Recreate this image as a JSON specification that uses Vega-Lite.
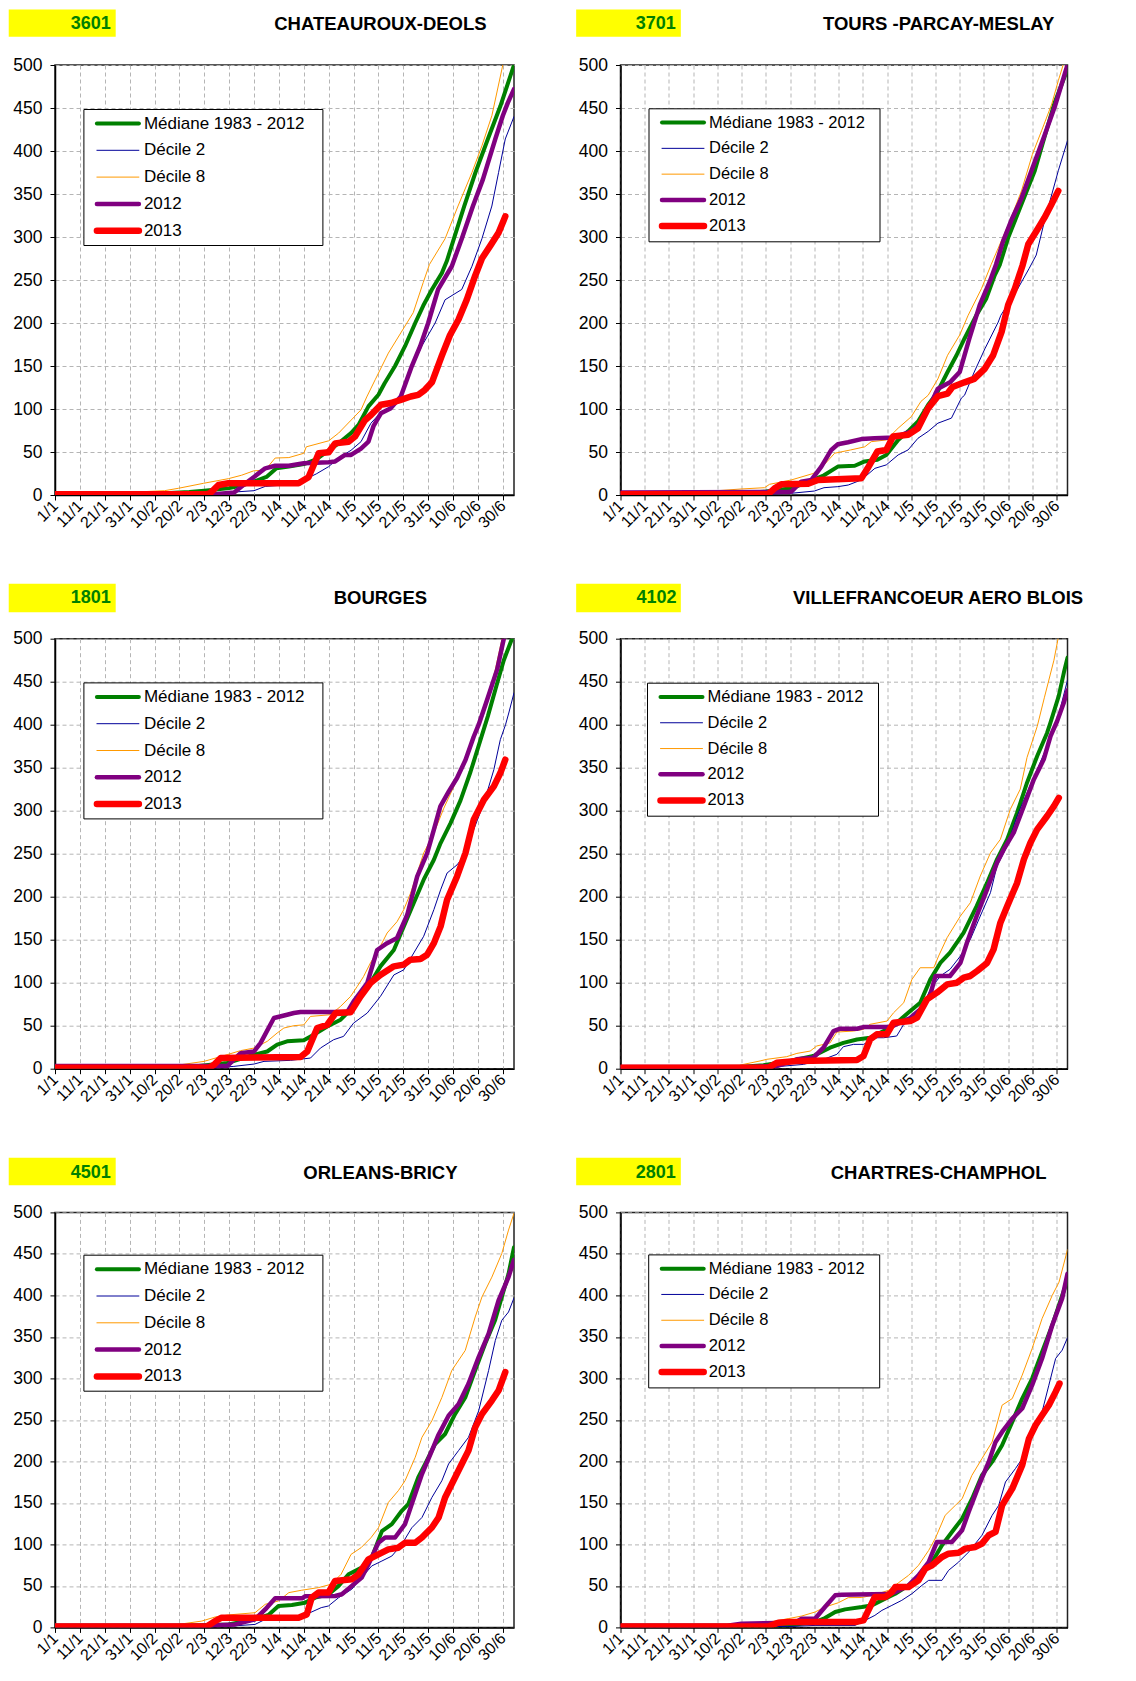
{
"$schema": "https://vega.github.io/schema/vega-lite/v6.json",
"autosize": {"type": "pad"},
"padding": {"left": 7, "top": 8, "right": 5, "bottom": 5},
"background": "white",
"columns": 2,
"spacing": {"row": 143.7, "column": 106.5},
"bounds": "flush",
"align": "all",
"resolve": {"scale": {"color": "independent", "strokeWidth": "independent", "x": "independent", "y": "independent"}, "legend": {"color": "independent", "strokeWidth": "independent"}},
"datasets": {
"p3601": [
{"k":"M","d":1,"v":1},{"k":"M","d":45,"v":2},{"k":"M","d":55,"v":3.5},{"k":"M","d":61,"v":5},{"k":"M","d":71,"v":8},{"k":"M","d":76,"v":11},{"k":"M","d":81,"v":15.5},{"k":"M","d":86,"v":21},{"k":"M","d":90,"v":31},{"k":"M","d":95,"v":33},{"k":"M","d":101,"v":36},{"k":"M","d":106,"v":41.5},{"k":"M","d":111,"v":52},{"k":"M","d":115,"v":60},{"k":"M","d":120,"v":72},{"k":"M","d":123,"v":81.5},{"k":"M","d":127,"v":103},{"k":"M","d":131,"v":116.5},{"k":"M","d":133.5,"v":130},{"k":"M","d":137.7,"v":150},{"k":"M","d":141.7,"v":173},{"k":"M","d":145.8,"v":200},{"k":"M","d":149,"v":220},{"k":"M","d":152.5,"v":239},{"k":"M","d":156.5,"v":258},{"k":"M","d":158.5,"v":272},{"k":"M","d":161,"v":295},{"k":"M","d":165.5,"v":336},{"k":"M","d":170,"v":375},{"k":"M","d":175,"v":414},{"k":"M","d":180,"v":452},{"k":"M","d":185.5,"v":500},
{"k":"D2","d":1,"v":0.5},{"k":"D2","d":60,"v":1},{"k":"D2","d":70.7,"v":3},{"k":"D2","d":81,"v":5},{"k":"D2","d":85.5,"v":10},{"k":"D2","d":95,"v":12},{"k":"D2","d":101,"v":17.5},{"k":"D2","d":106,"v":24.5},{"k":"D2","d":111,"v":33},{"k":"D2","d":115,"v":43},{"k":"D2","d":120,"v":52},{"k":"D2","d":124,"v":62},{"k":"D2","d":128,"v":83.5},{"k":"D2","d":131,"v":93},{"k":"D2","d":136,"v":103},{"k":"D2","d":140,"v":114},{"k":"D2","d":143,"v":138},{"k":"D2","d":148.4,"v":173},{"k":"D2","d":153.8,"v":200},{"k":"D2","d":157.8,"v":227},{"k":"D2","d":164.5,"v":239},{"k":"D2","d":168.6,"v":266},{"k":"D2","d":172.6,"v":298},{"k":"D2","d":176.6,"v":336},{"k":"D2","d":179.3,"v":375},{"k":"D2","d":182,"v":414},{"k":"D2","d":185.5,"v":440},
{"k":"D8","d":1,"v":2},{"k":"D8","d":30,"v":3},{"k":"D8","d":45,"v":5},{"k":"D8","d":50.6,"v":7.8},{"k":"D8","d":60.7,"v":13.6},{"k":"D8","d":70.7,"v":19},{"k":"D8","d":76,"v":23},{"k":"D8","d":80.8,"v":28},{"k":"D8","d":85.5,"v":29},{"k":"D8","d":89.5,"v":43},{"k":"D8","d":95,"v":43.5},{"k":"D8","d":101,"v":48.5},{"k":"D8","d":102,"v":56},{"k":"D8","d":111,"v":63},{"k":"D8","d":115,"v":72},{"k":"D8","d":120,"v":87},{"k":"D8","d":124,"v":99},{"k":"D8","d":126.3,"v":114},{"k":"D8","d":129.7,"v":134},{"k":"D8","d":135,"v":165},{"k":"D8","d":140,"v":188.5},{"k":"D8","d":145,"v":212},{"k":"D8","d":149,"v":247},{"k":"D8","d":151.5,"v":268},{"k":"D8","d":157.8,"v":298},{"k":"D8","d":163,"v":336},{"k":"D8","d":168.6,"v":375},{"k":"D8","d":172.6,"v":406},{"k":"D8","d":176.6,"v":441},{"k":"D8","d":181,"v":500},{"k":"D8","d":185.5,"v":535},
{"k":"2012","d":1,"v":1},{"k":"2012","d":65,"v":1},{"k":"2012","d":73,"v":3},{"k":"2012","d":76,"v":10},{"k":"2012","d":81,"v":21},{"k":"2012","d":85.5,"v":31},{"k":"2012","d":89.5,"v":34},{"k":"2012","d":95,"v":34},{"k":"2012","d":101,"v":37},{"k":"2012","d":111,"v":38},{"k":"2012","d":113.6,"v":39},{"k":"2012","d":117.6,"v":46.6},{"k":"2012","d":120,"v":46.6},{"k":"2012","d":124,"v":54},{"k":"2012","d":127,"v":62},{"k":"2012","d":129,"v":80},{"k":"2012","d":132,"v":95},{"k":"2012","d":136,"v":101},{"k":"2012","d":140,"v":114.5},{"k":"2012","d":144.4,"v":149.6},{"k":"2012","d":147.8,"v":173},{"k":"2012","d":151,"v":200},{"k":"2012","d":155,"v":239},{"k":"2012","d":160.5,"v":266},{"k":"2012","d":164.5,"v":298},{"k":"2012","d":169,"v":336},{"k":"2012","d":173,"v":367},{"k":"2012","d":178,"v":414},{"k":"2012","d":181,"v":441},{"k":"2012","d":183,"v":456},{"k":"2012","d":185.5,"v":472},
{"k":"2013","d":1,"v":1},{"k":"2013","d":62,"v":1},{"k":"2013","d":63.3,"v":2},{"k":"2013","d":66.7,"v":11.6},{"k":"2013","d":70.7,"v":13.6},{"k":"2013","d":98.9,"v":13.6},{"k":"2013","d":102.9,"v":20.6},{"k":"2013","d":107,"v":48.5},{"k":"2013","d":111,"v":49.7},{"k":"2013","d":113.6,"v":60},{"k":"2013","d":119,"v":62},{"k":"2013","d":121.6,"v":68},{"k":"2013","d":125.6,"v":87},{"k":"2013","d":128,"v":93},{"k":"2013","d":132,"v":105},{"k":"2013","d":136,"v":107},{"k":"2013","d":140,"v":110.6},{"k":"2013","d":144,"v":114.5},{"k":"2013","d":147,"v":116.5},{"k":"2013","d":149.6,"v":122},{"k":"2013","d":152.5,"v":131},{"k":"2013","d":156.5,"v":162},{"k":"2013","d":159.8,"v":186},{"k":"2013","d":163.2,"v":204},{"k":"2013","d":166.5,"v":227},{"k":"2013","d":169.9,"v":255},{"k":"2013","d":172.6,"v":275},{"k":"2013","d":176,"v":290},{"k":"2013","d":179.3,"v":305},{"k":"2013","d":181.3,"v":319},{"k":"2013","d":182,"v":324}
],
"p3701": [
{"k":"M","d":1,"v":2},{"k":"M","d":50,"v":2},{"k":"M","d":61,"v":4},{"k":"M","d":71.5,"v":7.8},{"k":"M","d":80.5,"v":17.5},{"k":"M","d":85,"v":23},{"k":"M","d":90.7,"v":33},{"k":"M","d":97.7,"v":34},{"k":"M","d":101.8,"v":39},{"k":"M","d":107,"v":41},{"k":"M","d":110.7,"v":46.6},{"k":"M","d":115.6,"v":64},{"k":"M","d":119.7,"v":74},{"k":"M","d":123.8,"v":85.5},{"k":"M","d":128,"v":105},{"k":"M","d":131.5,"v":118},{"k":"M","d":136,"v":143},{"k":"M","d":139.7,"v":162.5},{"k":"M","d":143,"v":182},{"k":"M","d":147.9,"v":209},{"k":"M","d":152,"v":228.6},{"k":"M","d":155.5,"v":255.8},{"k":"M","d":157.6,"v":268},{"k":"M","d":161,"v":299},{"k":"M","d":166.5,"v":338},{"k":"M","d":172,"v":377},{"k":"M","d":176,"v":416},{"k":"M","d":180,"v":454.6},{"k":"M","d":183.7,"v":482},{"k":"M","d":185.5,"v":495},
{"k":"D2","d":1,"v":1},{"k":"D2","d":60,"v":1},{"k":"D2","d":71.5,"v":2},{"k":"D2","d":81,"v":4.6},{"k":"D2","d":85,"v":8.5},{"k":"D2","d":90.7,"v":9.7},{"k":"D2","d":95,"v":11.6},{"k":"D2","d":100.4,"v":17.5},{"k":"D2","d":106,"v":31},{"k":"D2","d":110.7,"v":35},{"k":"D2","d":115.6,"v":46.6},{"k":"D2","d":119.7,"v":52.4},{"k":"D2","d":123.8,"v":66},{"k":"D2","d":128,"v":74},{"k":"D2","d":132,"v":83.5},{"k":"D2","d":137.6,"v":89.4},{"k":"D2","d":141.7,"v":112.7},{"k":"D2","d":143,"v":116},{"k":"D2","d":147,"v":143},{"k":"D2","d":151.4,"v":170},{"k":"D2","d":156.9,"v":201},{"k":"D2","d":158,"v":209},{"k":"D2","d":165,"v":240},{"k":"D2","d":169.7,"v":263.6},{"k":"D2","d":172.6,"v":279},{"k":"D2","d":176,"v":318.6},{"k":"D2","d":181.7,"v":377},{"k":"D2","d":185.5,"v":412},
{"k":"D8","d":1,"v":2},{"k":"D8","d":30,"v":3},{"k":"D8","d":41,"v":5},{"k":"D8","d":50.8,"v":7},{"k":"D8","d":60.5,"v":8.5},{"k":"D8","d":62.5,"v":12.4},{"k":"D8","d":71.5,"v":17.5},{"k":"D8","d":80.5,"v":25},{"k":"D8","d":85,"v":35},{"k":"D8","d":89.4,"v":48.6},{"k":"D8","d":96,"v":52.4},{"k":"D8","d":101.8,"v":56},{"k":"D8","d":104.5,"v":62},{"k":"D8","d":110.7,"v":64},{"k":"D8","d":115.6,"v":77.7},{"k":"D8","d":121,"v":91},{"k":"D8","d":125,"v":108.8},{"k":"D8","d":128,"v":116},{"k":"D8","d":132,"v":135},{"k":"D8","d":136,"v":162.5},{"k":"D8","d":141,"v":186},{"k":"D8","d":144.5,"v":209},{"k":"D8","d":150,"v":240},{"k":"D8","d":154,"v":268},{"k":"D8","d":161.7,"v":318.6},{"k":"D8","d":166.5,"v":353.6},{"k":"D8","d":171,"v":396},{"k":"D8","d":174.8,"v":423.5},{"k":"D8","d":179,"v":454.6},{"k":"D8","d":181.7,"v":481.7},{"k":"D8","d":183.7,"v":500},{"k":"D8","d":185.5,"v":515},
{"k":"2012","d":1,"v":3},{"k":"2012","d":70,"v":3.5},{"k":"2012","d":71.5,"v":4},{"k":"2012","d":75.6,"v":15.5},{"k":"2012","d":79.8,"v":17.5},{"k":"2012","d":83.9,"v":33},{"k":"2012","d":88,"v":52.4},{"k":"2012","d":90.7,"v":59},{"k":"2012","d":94.9,"v":61.4},{"k":"2012","d":100.4,"v":65},{"k":"2012","d":105.9,"v":66},{"k":"2012","d":114,"v":67},{"k":"2012","d":121,"v":74},{"k":"2012","d":125,"v":83.5},{"k":"2012","d":129,"v":105},{"k":"2012","d":131,"v":118},{"k":"2012","d":132,"v":123.5},{"k":"2012","d":137,"v":131},{"k":"2012","d":141,"v":143},{"k":"2012","d":145,"v":182},{"k":"2012","d":149.3,"v":221},{"k":"2012","d":153.4,"v":248},{"k":"2012","d":156,"v":268},{"k":"2012","d":158.9,"v":295},{"k":"2012","d":162.4,"v":320},{"k":"2012","d":166.5,"v":345},{"k":"2012","d":171,"v":380},{"k":"2012","d":176,"v":418},{"k":"2012","d":180.3,"v":452},{"k":"2012","d":184.4,"v":490},{"k":"2012","d":185.5,"v":500},
{"k":"2013","d":1,"v":1},{"k":"2013","d":62,"v":1},{"k":"2013","d":64.6,"v":7.8},{"k":"2013","d":67.4,"v":12.4},{"k":"2013","d":78.4,"v":13},{"k":"2013","d":82.5,"v":17.5},{"k":"2013","d":100.4,"v":19.4},{"k":"2013","d":103,"v":31},{"k":"2013","d":107,"v":50.5},{"k":"2013","d":110.7,"v":52.4},{"k":"2013","d":113.5,"v":68},{"k":"2013","d":119.7,"v":70},{"k":"2013","d":123.8,"v":77.7},{"k":"2013","d":128,"v":101},{"k":"2013","d":132,"v":115},{"k":"2013","d":136,"v":118},{"k":"2013","d":138,"v":125.5},{"k":"2013","d":143,"v":131},{"k":"2013","d":147,"v":135},{"k":"2013","d":151.4,"v":147},{"k":"2013","d":154.8,"v":162.5},{"k":"2013","d":158.3,"v":189.7},{"k":"2013","d":161,"v":221},{"k":"2013","d":163.8,"v":240},{"k":"2013","d":167,"v":267.5},{"k":"2013","d":169.3,"v":291.5},{"k":"2013","d":172.7,"v":307},{"k":"2013","d":176,"v":322.5},{"k":"2013","d":178.9,"v":338},{"k":"2013","d":181.7,"v":353.6}
],
"p1801": [
{"k":"M","d":1,"v":2},{"k":"M","d":55,"v":2},{"k":"M","d":70.2,"v":6.6},{"k":"M","d":81,"v":16.3},{"k":"M","d":86.3,"v":20},{"k":"M","d":90.3,"v":28},{"k":"M","d":94.3,"v":31.8},{"k":"M","d":101,"v":33},{"k":"M","d":105,"v":39.5},{"k":"M","d":110.4,"v":49},{"k":"M","d":115.8,"v":57},{"k":"M","d":119.8,"v":68.6},{"k":"M","d":123.8,"v":84},{"k":"M","d":127.8,"v":99.6},{"k":"M","d":131.8,"v":119},{"k":"M","d":137.2,"v":138},{"k":"M","d":141.2,"v":165.5},{"k":"M","d":145.2,"v":192.6},{"k":"M","d":149.2,"v":219.8},{"k":"M","d":153.3,"v":243},{"k":"M","d":156,"v":262.4},{"k":"M","d":160,"v":285.6},{"k":"M","d":164,"v":312},{"k":"M","d":168,"v":345},{"k":"M","d":172,"v":382},{"k":"M","d":175,"v":410},{"k":"M","d":178.7,"v":448},{"k":"M","d":181.4,"v":475},{"k":"M","d":184.7,"v":500},{"k":"M","d":185.5,"v":506},
{"k":"D2","d":1,"v":1},{"k":"D2","d":65,"v":1},{"k":"D2","d":72.9,"v":2.7},{"k":"D2","d":81,"v":5.4},{"k":"D2","d":85,"v":8.5},{"k":"D2","d":95.7,"v":9.7},{"k":"D2","d":103.7,"v":12.4},{"k":"D2","d":107.7,"v":24},{"k":"D2","d":113,"v":33.7},{"k":"D2","d":117,"v":37.6},{"k":"D2","d":121,"v":53},{"k":"D2","d":126.5,"v":64.7},{"k":"D2","d":131.8,"v":84},{"k":"D2","d":137.2,"v":109},{"k":"D2","d":141.2,"v":115},{"k":"D2","d":145.2,"v":134.5},{"k":"D2","d":149.2,"v":154},{"k":"D2","d":153.3,"v":185},{"k":"D2","d":156,"v":208},{"k":"D2","d":158.6,"v":227.5},{"k":"D2","d":162.6,"v":237},{"k":"D2","d":165.3,"v":247},{"k":"D2","d":169.3,"v":278},{"k":"D2","d":173.4,"v":309},{"k":"D2","d":177.4,"v":347.7},{"k":"D2","d":180,"v":382.6},{"k":"D2","d":182.1,"v":400},{"k":"D2","d":183.4,"v":413.6},{"k":"D2","d":185.5,"v":437},
{"k":"D8","d":1,"v":2},{"k":"D8","d":40,"v":2.5},{"k":"D8","d":51.5,"v":4.6},{"k":"D8","d":60.9,"v":8.5},{"k":"D8","d":70.2,"v":16.3},{"k":"D8","d":75.6,"v":21},{"k":"D8","d":81,"v":24},{"k":"D8","d":86.3,"v":31.8},{"k":"D8","d":90.3,"v":41.5},{"k":"D8","d":93,"v":47.3},{"k":"D8","d":97,"v":50},{"k":"D8","d":101,"v":51},{"k":"D8","d":103.7,"v":60.8},{"k":"D8","d":111.8,"v":62.8},{"k":"D8","d":115.8,"v":72.5},{"k":"D8","d":119.8,"v":84},{"k":"D8","d":122.5,"v":95.7},{"k":"D8","d":125,"v":107},{"k":"D8","d":127.8,"v":123},{"k":"D8","d":131,"v":138},{"k":"D8","d":134.5,"v":157.8},{"k":"D8","d":138.5,"v":171},{"k":"D8","d":141.2,"v":185},{"k":"D8","d":143.9,"v":204},{"k":"D8","d":146.6,"v":227.5},{"k":"D8","d":149.2,"v":250.8},{"k":"D8","d":153.3,"v":274},{"k":"D8","d":157.3,"v":303},{"k":"D8","d":161.3,"v":328},{"k":"D8","d":165.3,"v":355},{"k":"D8","d":169.3,"v":386},{"k":"D8","d":171.3,"v":400},{"k":"D8","d":174.7,"v":429},{"k":"D8","d":178,"v":464},{"k":"D8","d":180.7,"v":500},{"k":"D8","d":185.5,"v":540},
{"k":"2012","d":1,"v":3},{"k":"2012","d":70.2,"v":3},{"k":"2012","d":75.6,"v":18},{"k":"2012","d":81,"v":20},{"k":"2012","d":83.6,"v":29.8},{"k":"2012","d":89,"v":59},{"k":"2012","d":94.3,"v":62.8},{"k":"2012","d":97,"v":64.7},{"k":"2012","d":99.7,"v":66},{"k":"2012","d":118.5,"v":66},{"k":"2012","d":121,"v":78},{"k":"2012","d":126.5,"v":99.6},{"k":"2012","d":130.5,"v":138},{"k":"2012","d":134.5,"v":146},{"k":"2012","d":138.5,"v":152},{"k":"2012","d":142.6,"v":179},{"k":"2012","d":146.6,"v":223.6},{"k":"2012","d":150.6,"v":250.8},{"k":"2012","d":153.3,"v":278},{"k":"2012","d":155.9,"v":305},{"k":"2012","d":159.3,"v":322.5},{"k":"2012","d":162.6,"v":338},{"k":"2012","d":166,"v":359},{"k":"2012","d":169.3,"v":386},{"k":"2012","d":171.3,"v":400},{"k":"2012","d":174.7,"v":429},{"k":"2012","d":178.7,"v":464},{"k":"2012","d":181.4,"v":500},{"k":"2012","d":185.5,"v":540},
{"k":"2013","d":1,"v":1},{"k":"2013","d":63,"v":1},{"k":"2013","d":64.9,"v":4.6},{"k":"2013","d":67.6,"v":12.4},{"k":"2013","d":99.7,"v":13.6},{"k":"2013","d":102.4,"v":20},{"k":"2013","d":106.4,"v":47.3},{"k":"2013","d":110.4,"v":51},{"k":"2013","d":113.8,"v":64.7},{"k":"2013","d":119.8,"v":65.5},{"k":"2013","d":123.8,"v":84},{"k":"2013","d":127.8,"v":99.6},{"k":"2013","d":131.8,"v":109},{"k":"2013","d":137.2,"v":119},{"k":"2013","d":141.2,"v":121},{"k":"2013","d":143.9,"v":126.7},{"k":"2013","d":147.9,"v":127.5},{"k":"2013","d":150.6,"v":132.6},{"k":"2013","d":153.3,"v":146},{"k":"2013","d":156,"v":165.5},{"k":"2013","d":158.6,"v":196.5},{"k":"2013","d":162.6,"v":223.6},{"k":"2013","d":166,"v":250.8},{"k":"2013","d":169.3,"v":289.5},{"k":"2013","d":173.4,"v":312.8},{"k":"2013","d":177.4,"v":328.3},{"k":"2013","d":180,"v":343.8},{"k":"2013","d":182,"v":359.3}
],
"p4102": [
{"k":"M","d":1,"v":2},{"k":"M","d":50,"v":2},{"k":"M","d":60,"v":3.9},{"k":"M","d":71,"v":9},{"k":"M","d":80.6,"v":14.7},{"k":"M","d":87.5,"v":24.4},{"k":"M","d":93,"v":30},{"k":"M","d":98.6,"v":34},{"k":"M","d":104,"v":36},{"k":"M","d":109.6,"v":43.8},{"k":"M","d":115,"v":53.5},{"k":"M","d":120.6,"v":67},{"k":"M","d":124.7,"v":76.7},{"k":"M","d":128.9,"v":103.9},{"k":"M","d":133,"v":123},{"k":"M","d":137,"v":135},{"k":"M","d":142.6,"v":158},{"k":"M","d":148,"v":189},{"k":"M","d":152.3,"v":216},{"k":"M","d":156.4,"v":243.4},{"k":"M","d":160.6,"v":266.7},{"k":"M","d":164.7,"v":297.7},{"k":"M","d":168.8,"v":332.6},{"k":"M","d":173,"v":363.6},{"k":"M","d":177.1,"v":390.7},{"k":"M","d":178.5,"v":402.7},{"k":"M","d":181.9,"v":433.6},{"k":"M","d":184,"v":460.6},{"k":"M","d":185.5,"v":478},
{"k":"D2","d":1,"v":1},{"k":"D2","d":60,"v":1},{"k":"D2","d":76.5,"v":5},{"k":"D2","d":84.8,"v":10.9},{"k":"D2","d":90.3,"v":16.7},{"k":"D2","d":93,"v":25.6},{"k":"D2","d":97.2,"v":28.3},{"k":"D2","d":101.3,"v":28.3},{"k":"D2","d":106.8,"v":36},{"k":"D2","d":109.6,"v":36},{"k":"D2","d":115,"v":38},{"k":"D2","d":117.9,"v":51.6},{"k":"D2","d":123.4,"v":59.3},{"k":"D2","d":128.9,"v":92.2},{"k":"D2","d":133,"v":107.8},{"k":"D2","d":137,"v":115.5},{"k":"D2","d":141.3,"v":131},{"k":"D2","d":145.4,"v":150.4},{"k":"D2","d":149.5,"v":177.5},{"k":"D2","d":153.7,"v":204.7},{"k":"D2","d":156.4,"v":235.7},{"k":"D2","d":160.6,"v":259},{"k":"D2","d":164.7,"v":294},{"k":"D2","d":168.8,"v":321},{"k":"D2","d":173,"v":348},{"k":"D2","d":177.1,"v":375},{"k":"D2","d":181.2,"v":404},{"k":"D2","d":185.5,"v":452},
{"k":"D8","d":1,"v":3},{"k":"D8","d":50,"v":4},{"k":"D8","d":58.6,"v":9},{"k":"D8","d":61.4,"v":10.9},{"k":"D8","d":69.6,"v":14},{"k":"D8","d":73.8,"v":17.8},{"k":"D8","d":79.3,"v":20.5},{"k":"D8","d":82,"v":26.4},{"k":"D8","d":87.5,"v":30},{"k":"D8","d":90.3,"v":42.6},{"k":"D8","d":97.2,"v":43.8},{"k":"D8","d":101.3,"v":45.7},{"k":"D8","d":104,"v":51.6},{"k":"D8","d":111,"v":55.4},{"k":"D8","d":113.7,"v":65},{"k":"D8","d":117.9,"v":76.7},{"k":"D8","d":121.3,"v":103.9},{"k":"D8","d":124.7,"v":117.4},{"k":"D8","d":130.3,"v":117.4},{"k":"D8","d":132.3,"v":131},{"k":"D8","d":135.8,"v":152.3},{"k":"D8","d":141.3,"v":177.5},{"k":"D8","d":145.4,"v":193},{"k":"D8","d":149.5,"v":224},{"k":"D8","d":153.7,"v":251},{"k":"D8","d":157.8,"v":266.7},{"k":"D8","d":161.9,"v":301.6},{"k":"D8","d":166,"v":325},{"k":"D8","d":168.8,"v":362},{"k":"D8","d":173,"v":398},{"k":"D8","d":176,"v":432},{"k":"D8","d":179.9,"v":475},{"k":"D8","d":181.6,"v":500},{"k":"D8","d":185.5,"v":540},
{"k":"2012","d":1,"v":2},{"k":"2012","d":55,"v":2},{"k":"2012","d":65.5,"v":3},{"k":"2012","d":73.8,"v":10.9},{"k":"2012","d":80.6,"v":12.8},{"k":"2012","d":84.8,"v":24.4},{"k":"2012","d":88.9,"v":43.8},{"k":"2012","d":91.7,"v":46.5},{"k":"2012","d":98.6,"v":46.5},{"k":"2012","d":101.3,"v":48.4},{"k":"2012","d":112.3,"v":48.4},{"k":"2012","d":120.6,"v":59},{"k":"2012","d":124.7,"v":69},{"k":"2012","d":128.9,"v":86.4},{"k":"2012","d":131,"v":107.8},{"k":"2012","d":137,"v":107.8},{"k":"2012","d":141.3,"v":123},{"k":"2012","d":144,"v":146.5},{"k":"2012","d":148,"v":177.5},{"k":"2012","d":152.3,"v":208.5},{"k":"2012","d":156.4,"v":239.5},{"k":"2012","d":159.2,"v":255},{"k":"2012","d":163.3,"v":274.4},{"k":"2012","d":167.5,"v":305.4},{"k":"2012","d":171.6,"v":336.4},{"k":"2012","d":175.7,"v":359.7},{"k":"2012","d":178.5,"v":386.8},{"k":"2012","d":181.2,"v":404},{"k":"2012","d":184,"v":425.9},{"k":"2012","d":185.5,"v":440},
{"k":"2013","d":1,"v":1},{"k":"2013","d":62,"v":1},{"k":"2013","d":65.5,"v":7},{"k":"2013","d":73.8,"v":8.9},{"k":"2013","d":98.6,"v":10},{"k":"2013","d":101.3,"v":14.7},{"k":"2013","d":104,"v":34},{"k":"2013","d":106.8,"v":40},{"k":"2013","d":110.9,"v":40},{"k":"2013","d":113.7,"v":53.5},{"k":"2013","d":120.6,"v":55.4},{"k":"2013","d":123.4,"v":59.3},{"k":"2013","d":127.5,"v":80.6},{"k":"2013","d":131.6,"v":88.4},{"k":"2013","d":135.8,"v":98},{"k":"2013","d":139.9,"v":100},{"k":"2013","d":142.7,"v":105.8},{"k":"2013","d":145.4,"v":107.8},{"k":"2013","d":148.2,"v":113.6},{"k":"2013","d":152.3,"v":123},{"k":"2013","d":155,"v":138.8},{"k":"2013","d":157.8,"v":169.8},{"k":"2013","d":160.6,"v":189},{"k":"2013","d":164.7,"v":216},{"k":"2013","d":167.5,"v":243.4},{"k":"2013","d":170.2,"v":262.8},{"k":"2013","d":173,"v":278.3},{"k":"2013","d":177.1,"v":293.8},{"k":"2013","d":179.9,"v":305.4},{"k":"2013","d":181.9,"v":315}
],
"p4501": [
{"k":"M","d":1,"v":2},{"k":"M","d":50,"v":2},{"k":"M","d":70.7,"v":3.6},{"k":"M","d":81.4,"v":9.7},{"k":"M","d":86.8,"v":15},{"k":"M","d":90.8,"v":25.8},{"k":"M","d":96.2,"v":27},{"k":"M","d":101.5,"v":29.8},{"k":"M","d":105.6,"v":35.8},{"k":"M","d":111,"v":40},{"k":"M","d":115,"v":50},{"k":"M","d":119,"v":64},{"k":"M","d":124.3,"v":72},{"k":"M","d":128.3,"v":84},{"k":"M","d":132.4,"v":116},{"k":"M","d":136.4,"v":124.4},{"k":"M","d":140.4,"v":140.5},{"k":"M","d":143,"v":148.5},{"k":"M","d":147,"v":180.8},{"k":"M","d":149.8,"v":196.9},{"k":"M","d":153.8,"v":221},{"k":"M","d":157.8,"v":233},{"k":"M","d":161.8,"v":257},{"k":"M","d":165.9,"v":277},{"k":"M","d":169.9,"v":309.6},{"k":"M","d":173.9,"v":341.8},{"k":"M","d":177.9,"v":370},{"k":"M","d":180.6,"v":398},{"k":"M","d":183.3,"v":426},{"k":"M","d":185.5,"v":458},
{"k":"D2","d":1,"v":1},{"k":"D2","d":60,"v":1},{"k":"D2","d":72,"v":1.6},{"k":"D2","d":81.4,"v":3.6},{"k":"D2","d":85.5,"v":9.7},{"k":"D2","d":95,"v":11.7},{"k":"D2","d":101.5,"v":15},{"k":"D2","d":108,"v":23.8},{"k":"D2","d":110.9,"v":25.8},{"k":"D2","d":115,"v":35.8},{"k":"D2","d":120.3,"v":46},{"k":"D2","d":124.3,"v":60},{"k":"D2","d":128.3,"v":74},{"k":"D2","d":132.4,"v":80},{"k":"D2","d":136.4,"v":86},{"k":"D2","d":140.4,"v":100},{"k":"D2","d":144.4,"v":120},{"k":"D2","d":148.5,"v":132.4},{"k":"D2","d":152.5,"v":156.6},{"k":"D2","d":156.5,"v":176.7},{"k":"D2","d":159.2,"v":196.9},{"k":"D2","d":163.2,"v":213},{"k":"D2","d":167.2,"v":229},{"k":"D2","d":171.3,"v":261},{"k":"D2","d":175.3,"v":309.6},{"k":"D2","d":178,"v":345.8},{"k":"D2","d":180.6,"v":370},{"k":"D2","d":183.3,"v":380},{"k":"D2","d":185.5,"v":397},
{"k":"D8","d":1,"v":2},{"k":"D8","d":45,"v":2},{"k":"D8","d":50.6,"v":3.6},{"k":"D8","d":60,"v":7.6},{"k":"D8","d":65.3,"v":12.5},{"k":"D8","d":70.7,"v":15},{"k":"D8","d":81.4,"v":17.7},{"k":"D8","d":85.5,"v":27.8},{"k":"D8","d":90.8,"v":31.8},{"k":"D8","d":95,"v":41.9},{"k":"D8","d":100,"v":44.7},{"k":"D8","d":107,"v":48},{"k":"D8","d":112,"v":52},{"k":"D8","d":116,"v":64},{"k":"D8","d":120,"v":88},{"k":"D8","d":124,"v":96},{"k":"D8","d":128,"v":108},{"k":"D8","d":131,"v":120},{"k":"D8","d":135,"v":150.6},{"k":"D8","d":139,"v":164.7},{"k":"D8","d":141.7,"v":176.7},{"k":"D8","d":145.8,"v":205},{"k":"D8","d":148.5,"v":229},{"k":"D8","d":152.5,"v":249},{"k":"D8","d":156.5,"v":277},{"k":"D8","d":160.5,"v":309.6},{"k":"D8","d":165.9,"v":333.7},{"k":"D8","d":169.9,"v":374},{"k":"D8","d":172.6,"v":398},{"k":"D8","d":176.6,"v":422},{"k":"D8","d":180.6,"v":450.5},{"k":"D8","d":183.3,"v":478.7},{"k":"D8","d":185.5,"v":499},
{"k":"2012","d":1,"v":2},{"k":"2012","d":60,"v":2},{"k":"2012","d":73.4,"v":3.6},{"k":"2012","d":81.4,"v":9.7},{"k":"2012","d":85.5,"v":21.7},{"k":"2012","d":89.5,"v":35},{"k":"2012","d":100.3,"v":35},{"k":"2012","d":101.5,"v":37.4},{"k":"2012","d":113.6,"v":37.8},{"k":"2012","d":116.3,"v":39.9},{"k":"2012","d":120.3,"v":50},{"k":"2012","d":124.3,"v":60},{"k":"2012","d":127,"v":76},{"k":"2012","d":131,"v":102},{"k":"2012","d":133.7,"v":108.3},{"k":"2012","d":137.7,"v":108.3},{"k":"2012","d":141.7,"v":124.4},{"k":"2012","d":144.4,"v":148.5},{"k":"2012","d":148.5,"v":184.8},{"k":"2012","d":152.5,"v":213},{"k":"2012","d":155,"v":231},{"k":"2012","d":159.2,"v":255},{"k":"2012","d":163.2,"v":269},{"k":"2012","d":167.2,"v":293.5},{"k":"2012","d":171.3,"v":325.7},{"k":"2012","d":175.3,"v":353.9},{"k":"2012","d":179.3,"v":394},{"k":"2012","d":183.3,"v":422},{"k":"2012","d":185.5,"v":443},
{"k":"2013","d":1,"v":1},{"k":"2013","d":62,"v":1},{"k":"2013","d":65.3,"v":7.6},{"k":"2013","d":68,"v":11.7},{"k":"2013","d":98.9,"v":11.7},{"k":"2013","d":102.2,"v":15.7},{"k":"2013","d":104.2,"v":35.8},{"k":"2013","d":106.9,"v":41.9},{"k":"2013","d":110.9,"v":41.9},{"k":"2013","d":113.6,"v":56},{"k":"2013","d":120.3,"v":58},{"k":"2013","d":123,"v":64},{"k":"2013","d":127,"v":82},{"k":"2013","d":131,"v":88},{"k":"2013","d":135,"v":94},{"k":"2013","d":139,"v":96},{"k":"2013","d":141.7,"v":102},{"k":"2013","d":145.8,"v":102},{"k":"2013","d":148.5,"v":108.3},{"k":"2013","d":152.5,"v":120.4},{"k":"2013","d":155.2,"v":132.4},{"k":"2013","d":157.8,"v":156.6},{"k":"2013","d":160.5,"v":172.7},{"k":"2013","d":164.5,"v":196.9},{"k":"2013","d":167.2,"v":213},{"k":"2013","d":169.9,"v":241},{"k":"2013","d":172.6,"v":257},{"k":"2013","d":176.6,"v":273.3},{"k":"2013","d":179.3,"v":285.4},{"k":"2013","d":182,"v":307.6}
],
"p2801": [
{"k":"M","d":1,"v":2},{"k":"M","d":55,"v":2},{"k":"M","d":70.2,"v":2.4},{"k":"M","d":81.3,"v":6.4},{"k":"M","d":85.4,"v":11.3},{"k":"M","d":89.6,"v":18.5},{"k":"M","d":93.7,"v":21.7},{"k":"M","d":100.6,"v":24.5},{"k":"M","d":104.7,"v":26.5},{"k":"M","d":110.2,"v":34.6},{"k":"M","d":114.4,"v":40.6},{"k":"M","d":119.9,"v":50.6},{"k":"M","d":125.4,"v":64.7},{"k":"M","d":129.6,"v":78.8},{"k":"M","d":133.7,"v":98.9},{"k":"M","d":137.8,"v":115},{"k":"M","d":142,"v":131},{"k":"M","d":146.1,"v":155},{"k":"M","d":150.2,"v":183.3},{"k":"M","d":154.4,"v":199.4},{"k":"M","d":158.5,"v":219.5},{"k":"M","d":162.7,"v":247.6},{"k":"M","d":166.8,"v":275.7},{"k":"M","d":170.9,"v":299.8},{"k":"M","d":175,"v":332},{"k":"M","d":179.2,"v":364},{"k":"M","d":183.3,"v":400},{"k":"M","d":185.5,"v":418},
{"k":"D2","d":1,"v":1},{"k":"D2","d":70,"v":1},{"k":"D2","d":81.3,"v":2.4},{"k":"D2","d":97.8,"v":2.4},{"k":"D2","d":100.6,"v":6.4},{"k":"D2","d":106,"v":14.5},{"k":"D2","d":108.9,"v":20.5},{"k":"D2","d":113,"v":26.5},{"k":"D2","d":117.1,"v":32.6},{"k":"D2","d":121.3,"v":40.6},{"k":"D2","d":125.4,"v":50.6},{"k":"D2","d":128.2,"v":56.7},{"k":"D2","d":133.7,"v":56.7},{"k":"D2","d":136.4,"v":68.7},{"k":"D2","d":140.6,"v":78.8},{"k":"D2","d":144.7,"v":90.8},{"k":"D2","d":150.2,"v":111},{"k":"D2","d":154.4,"v":135},{"k":"D2","d":157.1,"v":147},{"k":"D2","d":159.9,"v":175.2},{"k":"D2","d":164,"v":191.3},{"k":"D2","d":166.8,"v":203.4},{"k":"D2","d":170.9,"v":235.5},{"k":"D2","d":175,"v":259.6},{"k":"D2","d":177.8,"v":291.8},{"k":"D2","d":180.6,"v":324},{"k":"D2","d":183.3,"v":334},{"k":"D2","d":185.5,"v":349},
{"k":"D8","d":1,"v":2},{"k":"D8","d":40,"v":2},{"k":"D8","d":50.9,"v":4},{"k":"D8","d":60.6,"v":5.6},{"k":"D8","d":70.2,"v":10.5},{"k":"D8","d":75.8,"v":13.7},{"k":"D8","d":81.3,"v":18.5},{"k":"D8","d":85.4,"v":24.5},{"k":"D8","d":90.9,"v":29.7},{"k":"D8","d":95,"v":35.8},{"k":"D8","d":100.6,"v":36},{"k":"D8","d":106,"v":39.4},{"k":"D8","d":111.6,"v":44.6},{"k":"D8","d":115.8,"v":53.9},{"k":"D8","d":119.9,"v":62.7},{"k":"D8","d":124,"v":74.8},{"k":"D8","d":128.2,"v":92.8},{"k":"D8","d":130.9,"v":107},{"k":"D8","d":135,"v":135},{"k":"D8","d":139.2,"v":147},{"k":"D8","d":142,"v":155},{"k":"D8","d":146,"v":183},{"k":"D8","d":150.2,"v":203.4},{"k":"D8","d":154.4,"v":223.5},{"k":"D8","d":158.5,"v":267.7},{"k":"D8","d":162.7,"v":275.7},{"k":"D8","d":166.8,"v":303.9},{"k":"D8","d":170.9,"v":336},{"k":"D8","d":175,"v":372},{"k":"D8","d":179.2,"v":400},{"k":"D8","d":182,"v":416},{"k":"D8","d":185.5,"v":455},
{"k":"2012","d":1,"v":2},{"k":"2012","d":45,"v":2},{"k":"2012","d":50.9,"v":4.4},{"k":"2012","d":73,"v":5.6},{"k":"2012","d":75.8,"v":10.5},{"k":"2012","d":81.3,"v":10.5},{"k":"2012","d":85.4,"v":24.5},{"k":"2012","d":89.6,"v":38.6},{"k":"2012","d":92.3,"v":39.4},{"k":"2012","d":111.6,"v":40.2},{"k":"2012","d":114.4,"v":42.6},{"k":"2012","d":119.9,"v":50.6},{"k":"2012","d":124,"v":62.7},{"k":"2012","d":128.2,"v":78.8},{"k":"2012","d":131.6,"v":103},{"k":"2012","d":137.8,"v":103},{"k":"2012","d":142,"v":117},{"k":"2012","d":144.7,"v":139},{"k":"2012","d":148.9,"v":171},{"k":"2012","d":153,"v":199.4},{"k":"2012","d":155.8,"v":223.5},{"k":"2012","d":158.5,"v":235.5},{"k":"2012","d":162.7,"v":251.6},{"k":"2012","d":166.8,"v":263.7},{"k":"2012","d":170.9,"v":291.8},{"k":"2012","d":175,"v":324},{"k":"2012","d":179.2,"v":364},{"k":"2012","d":183.3,"v":396.3},{"k":"2012","d":185.5,"v":426},
{"k":"2013","d":1,"v":1},{"k":"2013","d":62,"v":1},{"k":"2013","d":66.1,"v":5.6},{"k":"2013","d":70.2,"v":6.4},{"k":"2013","d":97.8,"v":6.4},{"k":"2013","d":101.3,"v":8.4},{"k":"2013","d":103.3,"v":20.5},{"k":"2013","d":106,"v":36.6},{"k":"2013","d":110.2,"v":36.6},{"k":"2013","d":113,"v":42.6},{"k":"2013","d":114.4,"v":48.6},{"k":"2013","d":119.9,"v":48.6},{"k":"2013","d":124,"v":56.7},{"k":"2013","d":126.8,"v":70.7},{"k":"2013","d":129.6,"v":74.8},{"k":"2013","d":133.7,"v":84.8},{"k":"2013","d":136.4,"v":88.8},{"k":"2013","d":140.6,"v":90},{"k":"2013","d":143.3,"v":94.9},{"k":"2013","d":147.5,"v":96.9},{"k":"2013","d":150.2,"v":101},{"k":"2013","d":153,"v":111},{"k":"2013","d":155.8,"v":115},{"k":"2013","d":158.5,"v":147},{"k":"2013","d":162.7,"v":167.2},{"k":"2013","d":166.8,"v":195.3},{"k":"2013","d":169.6,"v":227.5},{"k":"2013","d":172.3,"v":243.6},{"k":"2013","d":175,"v":255.6},{"k":"2013","d":177.8,"v":267.7},{"k":"2013","d":180.6,"v":283.8},{"k":"2013","d":182.2,"v":293.8}
]
},
"concat": [
{"width": 459, "height": 430, "data": {"name": "p3601"}, "resolve": {"axis": {"x": "independent", "y": "independent"}}, "layer": [
 {"mark": {"type": "line", "clip": true, "strokeCap": "round", "strokeJoin": "round"},
  "encoding": {
   "x": {"field": "d", "type": "quantitative", "scale": {"domain": [1, 185.5], "nice": false, "zero": false}, "axis": {"title": null, "labelOverlap": false, "values": [1,11,21,31,41,51,61,71,81,91,101,111,121,131,141,151,161,171,181], "labelExpr": "timeFormat(datetime(2013, 0, datum.value), '%-d/%-m')"}},
   "y": {"field": "v", "type": "quantitative", "scale": {"domain": [0, 500], "nice": false}, "axis": {"title": null, "labelOverlap": false, "values": [0,50,100,150,200,250,300,350,400,450,500]}},
   "color": {"field": "k", "type": "nominal", "scale": {"domain": ["M","D2","D8","2012","2013"], "range": ["#008000","#000099","#FF9900","#800080","#FF0000"]},
    "legend": {"title": " ", "titleOrient": "right", "titlePadding": 12, "titleFontSize": 17, "orient": "none", "legendX": 28.4, "legendY": 44, "labelFontSize": 17, "labelExpr": "datum.label == 'M' ? 'Médiane 1983 - 2012' : datum.label == 'D2' ? 'Décile 2' : datum.label == 'D8' ? 'Décile 8' : datum.label", "encode": {"symbols": {"update": {"strokeCap": {"value": "round"}, "strokeJoin": {"value": "round"}, "strokeWidth": {"signal": "datum.value == 'M' || datum.value == '2012' ? 5 : datum.value == '2013' ? 8 : 1.2"}}}}}},
   "strokeWidth": {"field": "k", "type": "nominal", "legend": null, "scale": {"type": "ordinal", "domain": ["M","D2","D8","2012","2013"], "range": [4,1,1,4.5,6.5]}}
  }},
 {"data": {"values": [{"code": "3601", "name": "CHATEAUROUX-DEOLS"}]}, "layer": [
  {"mark": {"type": "rect", "fill": "#FFFF00"}, "encoding": {"x": {"datum": -17.6, "axis": null}, "x2": {"datum": 25.4}, "y": {"datum": 564.5, "axis": null}, "y2": {"datum": 532.9}}},
  {"mark": {"type": "text", "align": "right", "baseline": "middle", "fontSize": 18, "fontWeight": "bold", "fill": "#008000"}, "encoding": {"x": {"datum": 23.4, "axis": null}, "y": {"datum": 548, "axis": null}, "text": {"field": "code"}}},
  {"mark": {"type": "text", "align": "center", "baseline": "middle", "fontSize": 18.5, "fontWeight": "bold", "fill": "#000000"}, "encoding": {"x": {"datum": 131.8, "axis": null}, "y": {"datum": 547.5, "axis": null}, "text": {"field": "name"}}}
 ]}
]},
{"width": 447, "height": 430, "data": {"name": "p3701"}, "resolve": {"axis": {"x": "independent", "y": "independent"}}, "layer": [
 {"mark": {"type": "line", "clip": true, "strokeCap": "round", "strokeJoin": "round"},
  "encoding": {
   "x": {"field": "d", "type": "quantitative", "scale": {"domain": [1, 185.5], "nice": false, "zero": false}, "axis": {"title": null, "labelOverlap": false, "values": [1,11,21,31,41,51,61,71,81,91,101,111,121,131,141,151,161,171,181], "labelExpr": "timeFormat(datetime(2013, 0, datum.value), '%-d/%-m')"}},
   "y": {"field": "v", "type": "quantitative", "scale": {"domain": [0, 500], "nice": false}, "axis": {"title": null, "labelOverlap": false, "values": [0,50,100,150,200,250,300,350,400,450,500]}},
   "color": {"field": "k", "type": "nominal", "scale": {"domain": ["M","D2","D8","2012","2013"], "range": ["#008000","#000099","#FF9900","#800080","#FF0000"]},
    "legend": {"title": " ", "titleOrient": "right", "titlePadding": 9, "titleFontSize": 16.5, "orient": "none", "legendX": 28, "legendY": 43.3, "labelFontSize": 16.5, "labelExpr": "datum.label == 'M' ? 'Médiane 1983 - 2012' : datum.label == 'D2' ? 'Décile 2' : datum.label == 'D8' ? 'Décile 8' : datum.label", "encode": {"symbols": {"update": {"strokeCap": {"value": "round"}, "strokeJoin": {"value": "round"}, "strokeWidth": {"signal": "datum.value == 'M' || datum.value == '2012' ? 5 : datum.value == '2013' ? 8 : 1.2"}}}}}},
   "strokeWidth": {"field": "k", "type": "nominal", "legend": null, "scale": {"type": "ordinal", "domain": ["M","D2","D8","2012","2013"], "range": [4,1,1,4.5,6.5]}}
  }},
 {"data": {"values": [{"code": "3701", "name": "TOURS -PARCAY-MESLAY"}]}, "layer": [
  {"mark": {"type": "rect", "fill": "#FFFF00"}, "encoding": {"x": {"datum": -17.3, "axis": null}, "x2": {"datum": 25.9}, "y": {"datum": 564.5, "axis": null}, "y2": {"datum": 532.9}}},
  {"mark": {"type": "text", "align": "right", "baseline": "middle", "fontSize": 18, "fontWeight": "bold", "fill": "#008000"}, "encoding": {"x": {"datum": 23.8, "axis": null}, "y": {"datum": 548, "axis": null}, "text": {"field": "code"}}},
  {"mark": {"type": "text", "align": "center", "baseline": "middle", "fontSize": 18.5, "fontWeight": "bold", "fill": "#000000"}, "encoding": {"x": {"datum": 132.3, "axis": null}, "y": {"datum": 547.5, "axis": null}, "text": {"field": "name"}}}
 ]}
]},
{"width": 459, "height": 430, "data": {"name": "p1801"}, "resolve": {"axis": {"x": "independent", "y": "independent"}}, "layer": [
 {"mark": {"type": "line", "clip": true, "strokeCap": "round", "strokeJoin": "round"},
  "encoding": {
   "x": {"field": "d", "type": "quantitative", "scale": {"domain": [1, 185.5], "nice": false, "zero": false}, "axis": {"title": null, "labelOverlap": false, "values": [1,11,21,31,41,51,61,71,81,91,101,111,121,131,141,151,161,171,181], "labelExpr": "timeFormat(datetime(2013, 0, datum.value), '%-d/%-m')"}},
   "y": {"field": "v", "type": "quantitative", "scale": {"domain": [0, 500], "nice": false}, "axis": {"title": null, "labelOverlap": false, "values": [0,50,100,150,200,250,300,350,400,450,500]}},
   "color": {"field": "k", "type": "nominal", "scale": {"domain": ["M","D2","D8","2012","2013"], "range": ["#008000","#000099","#FF9900","#800080","#FF0000"]},
    "legend": {"title": " ", "titleOrient": "right", "titlePadding": 12, "titleFontSize": 17, "orient": "none", "legendX": 28.4, "legendY": 43.7, "labelFontSize": 17, "labelExpr": "datum.label == 'M' ? 'Médiane 1983 - 2012' : datum.label == 'D2' ? 'Décile 2' : datum.label == 'D8' ? 'Décile 8' : datum.label", "encode": {"symbols": {"update": {"strokeCap": {"value": "round"}, "strokeJoin": {"value": "round"}, "strokeWidth": {"signal": "datum.value == 'M' || datum.value == '2012' ? 5 : datum.value == '2013' ? 8 : 1.2"}}}}}},
   "strokeWidth": {"field": "k", "type": "nominal", "legend": null, "scale": {"type": "ordinal", "domain": ["M","D2","D8","2012","2013"], "range": [4,1,1,4.5,6.5]}}
  }},
 {"data": {"values": [{"code": "1801", "name": "BOURGES"}]}, "layer": [
  {"mark": {"type": "rect", "fill": "#FFFF00"}, "encoding": {"x": {"datum": -17.6, "axis": null}, "x2": {"datum": 25.4}, "y": {"datum": 563.8, "axis": null}, "y2": {"datum": 530.8}}},
  {"mark": {"type": "text", "align": "right", "baseline": "middle", "fontSize": 18, "fontWeight": "bold", "fill": "#008000"}, "encoding": {"x": {"datum": 23.4, "axis": null}, "y": {"datum": 547.1, "axis": null}, "text": {"field": "code"}}},
  {"mark": {"type": "text", "align": "center", "baseline": "middle", "fontSize": 18.5, "fontWeight": "bold", "fill": "#000000"}, "encoding": {"x": {"datum": 131.8, "axis": null}, "y": {"datum": 547.1, "axis": null}, "text": {"field": "name"}}}
 ]}
]},
{"width": 447, "height": 430, "data": {"name": "p4102"}, "resolve": {"axis": {"x": "independent", "y": "independent"}}, "layer": [
 {"mark": {"type": "line", "clip": true, "strokeCap": "round", "strokeJoin": "round"},
  "encoding": {
   "x": {"field": "d", "type": "quantitative", "scale": {"domain": [1, 185.5], "nice": false, "zero": false}, "axis": {"title": null, "labelOverlap": false, "values": [1,11,21,31,41,51,61,71,81,91,101,111,121,131,141,151,161,171,181], "labelExpr": "timeFormat(datetime(2013, 0, datum.value), '%-d/%-m')"}},
   "y": {"field": "v", "type": "quantitative", "scale": {"domain": [0, 500], "nice": false}, "axis": {"title": null, "labelOverlap": false, "values": [0,50,100,150,200,250,300,350,400,450,500]}},
   "color": {"field": "k", "type": "nominal", "scale": {"domain": ["M","D2","D8","2012","2013"], "range": ["#008000","#000099","#FF9900","#800080","#FF0000"]},
    "legend": {"title": " ", "titleOrient": "right", "titlePadding": 9, "titleFontSize": 16.5, "orient": "none", "legendX": 26.5, "legendY": 44, "labelFontSize": 16.5, "labelExpr": "datum.label == 'M' ? 'Médiane 1983 - 2012' : datum.label == 'D2' ? 'Décile 2' : datum.label == 'D8' ? 'Décile 8' : datum.label", "encode": {"symbols": {"update": {"strokeCap": {"value": "round"}, "strokeJoin": {"value": "round"}, "strokeWidth": {"signal": "datum.value == 'M' || datum.value == '2012' ? 5 : datum.value == '2013' ? 8 : 1.2"}}}}}},
   "strokeWidth": {"field": "k", "type": "nominal", "legend": null, "scale": {"type": "ordinal", "domain": ["M","D2","D8","2012","2013"], "range": [4,1,1,4.5,6.5]}}
  }},
 {"data": {"values": [{"code": "4102", "name": "VILLEFRANCOEUR AERO BLOIS"}]}, "layer": [
  {"mark": {"type": "rect", "fill": "#FFFF00"}, "encoding": {"x": {"datum": -17.3, "axis": null}, "x2": {"datum": 25.9}, "y": {"datum": 563.8, "axis": null}, "y2": {"datum": 530.8}}},
  {"mark": {"type": "text", "align": "right", "baseline": "middle", "fontSize": 18, "fontWeight": "bold", "fill": "#008000"}, "encoding": {"x": {"datum": 24.1, "axis": null}, "y": {"datum": 547.1, "axis": null}, "text": {"field": "code"}}},
  {"mark": {"type": "text", "align": "center", "baseline": "middle", "fontSize": 18.5, "fontWeight": "bold", "fill": "#000000"}, "encoding": {"x": {"datum": 132.1, "axis": null}, "y": {"datum": 547.1, "axis": null}, "text": {"field": "name"}}}
 ]}
]},
{"width": 459, "height": 415, "data": {"name": "p4501"}, "resolve": {"axis": {"x": "independent", "y": "independent"}}, "layer": [
 {"mark": {"type": "line", "clip": true, "strokeCap": "round", "strokeJoin": "round"},
  "encoding": {
   "x": {"field": "d", "type": "quantitative", "scale": {"domain": [1, 185.5], "nice": false, "zero": false}, "axis": {"title": null, "labelOverlap": false, "values": [1,11,21,31,41,51,61,71,81,91,101,111,121,131,141,151,161,171,181], "labelExpr": "timeFormat(datetime(2013, 0, datum.value), '%-d/%-m')"}},
   "y": {"field": "v", "type": "quantitative", "scale": {"domain": [0, 500], "nice": false}, "axis": {"title": null, "labelOverlap": false, "values": [0,50,100,150,200,250,300,350,400,450,500]}},
   "color": {"field": "k", "type": "nominal", "scale": {"domain": ["M","D2","D8","2012","2013"], "range": ["#008000","#000099","#FF9900","#800080","#FF0000"]},
    "legend": {"title": " ", "titleOrient": "right", "titlePadding": 12, "titleFontSize": 17, "orient": "none", "legendX": 28.4, "legendY": 42.3, "labelFontSize": 17, "labelExpr": "datum.label == 'M' ? 'Médiane 1983 - 2012' : datum.label == 'D2' ? 'Décile 2' : datum.label == 'D8' ? 'Décile 8' : datum.label", "encode": {"symbols": {"update": {"strokeCap": {"value": "round"}, "strokeJoin": {"value": "round"}, "strokeWidth": {"signal": "datum.value == 'M' || datum.value == '2012' ? 5 : datum.value == '2013' ? 8 : 1.2"}}}}}},
   "strokeWidth": {"field": "k", "type": "nominal", "legend": null, "scale": {"type": "ordinal", "domain": ["M","D2","D8","2012","2013"], "range": [4,1,1,4.5,6.5]}}
  }},
 {"data": {"values": [{"code": "4501", "name": "ORLEANS-BRICY"}]}, "layer": [
  {"mark": {"type": "rect", "fill": "#FFFF00"}, "encoding": {"x": {"datum": -17.6, "axis": null}, "x2": {"datum": 25.4}, "y": {"datum": 565.8, "axis": null}, "y2": {"datum": 532.8}}},
  {"mark": {"type": "text", "align": "right", "baseline": "middle", "fontSize": 18, "fontWeight": "bold", "fill": "#008000"}, "encoding": {"x": {"datum": 23.4, "axis": null}, "y": {"datum": 547.7, "axis": null}, "text": {"field": "code"}}},
  {"mark": {"type": "text", "align": "center", "baseline": "middle", "fontSize": 18.5, "fontWeight": "bold", "fill": "#000000"}, "encoding": {"x": {"datum": 131.8, "axis": null}, "y": {"datum": 547.7, "axis": null}, "text": {"field": "name"}}}
 ]}
]},
{"width": 447, "height": 415, "data": {"name": "p2801"}, "resolve": {"axis": {"x": "independent", "y": "independent"}}, "layer": [
 {"mark": {"type": "line", "clip": true, "strokeCap": "round", "strokeJoin": "round"},
  "encoding": {
   "x": {"field": "d", "type": "quantitative", "scale": {"domain": [1, 185.5], "nice": false, "zero": false}, "axis": {"title": null, "labelOverlap": false, "values": [1,11,21,31,41,51,61,71,81,91,101,111,121,131,141,151,161,171,181], "labelExpr": "timeFormat(datetime(2013, 0, datum.value), '%-d/%-m')"}},
   "y": {"field": "v", "type": "quantitative", "scale": {"domain": [0, 500], "nice": false}, "axis": {"title": null, "labelOverlap": false, "values": [0,50,100,150,200,250,300,350,400,450,500]}},
   "color": {"field": "k", "type": "nominal", "scale": {"domain": ["M","D2","D8","2012","2013"], "range": ["#008000","#000099","#FF9900","#800080","#FF0000"]},
    "legend": {"title": " ", "titleOrient": "right", "titlePadding": 9, "titleFontSize": 16.5, "orient": "none", "legendX": 27.7, "legendY": 42, "labelFontSize": 16.5, "labelExpr": "datum.label == 'M' ? 'Médiane 1983 - 2012' : datum.label == 'D2' ? 'Décile 2' : datum.label == 'D8' ? 'Décile 8' : datum.label", "encode": {"symbols": {"update": {"strokeCap": {"value": "round"}, "strokeJoin": {"value": "round"}, "strokeWidth": {"signal": "datum.value == 'M' || datum.value == '2012' ? 5 : datum.value == '2013' ? 8 : 1.2"}}}}}},
   "strokeWidth": {"field": "k", "type": "nominal", "legend": null, "scale": {"type": "ordinal", "domain": ["M","D2","D8","2012","2013"], "range": [4,1,1,4.5,6.5]}}
  }},
 {"data": {"values": [{"code": "2801", "name": "CHARTRES-CHAMPHOL"}]}, "layer": [
  {"mark": {"type": "rect", "fill": "#FFFF00"}, "encoding": {"x": {"datum": -17.3, "axis": null}, "x2": {"datum": 25.9}, "y": {"datum": 565.8, "axis": null}, "y2": {"datum": 532.8}}},
  {"mark": {"type": "text", "align": "right", "baseline": "middle", "fontSize": 18, "fontWeight": "bold", "fill": "#008000"}, "encoding": {"x": {"datum": 23.8, "axis": null}, "y": {"datum": 547.7, "axis": null}, "text": {"field": "code"}}},
  {"mark": {"type": "text", "align": "center", "baseline": "middle", "fontSize": 18.5, "fontWeight": "bold", "fill": "#000000"}, "encoding": {"x": {"datum": 132.3, "axis": null}, "y": {"datum": 547.7, "axis": null}, "text": {"field": "name"}}}
 ]}
]}
],
"config": {
 "font": "Liberation Sans",
 "view": {"stroke": "#222222", "strokeWidth": 1.5},
 "text": {"font": "Liberation Sans"},
 "axis": {"labelFont": "Liberation Sans", "labelColor": "#000000", "domainColor": "#000000", "domainWidth": 1.5, "tickColor": "#000000", "tickSize": 5, "tickWidth": 1, "grid": true, "gridColor": "#b5b5b5", "gridDash": [4, 3], "gridWidth": 1, "labelFlush": false, "labelOverlap": false, "labelBound": false},
 "axisX": {"labelAngle": -45, "labelFontSize": 16, "labelAlign": "right", "labelBaseline": "middle", "labelPadding": 3},
 "axisY": {"labelFontSize": 17.5, "labelPadding": 8},
 "legend": {"labelFont": "Liberation Sans", "labelFontSize": 17, "labelColor": "#000000", "strokeColor": "#000000", "fillColor": "#FFFFFF", "padding": 6, "rowPadding": 8.8, "symbolType": "M-0.1,0H8.3", "symbolSize": 100, "symbolOffset": -0.5, "labelOffset": 38, "labelLimit": 400}
}
}
